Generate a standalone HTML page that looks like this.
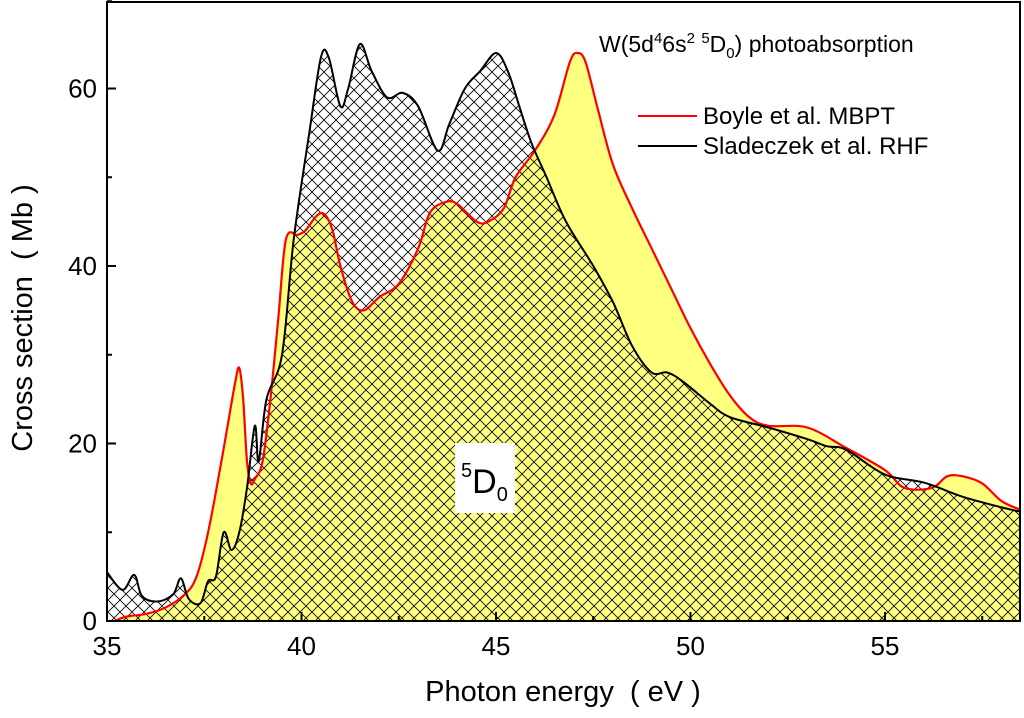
<!DOCTYPE html>
<html><head><meta charset="utf-8"><style>
html,body{margin:0;padding:0;background:#fff;}
svg text{font-family:"Liberation Sans",Arial,sans-serif;}
</style></head><body>
<svg id="chart" width="1024" height="713" viewBox="0 0 1024 713" xmlns="http://www.w3.org/2000/svg">
<defs>
<pattern id="hatch" patternUnits="userSpaceOnUse" width="12" height="12">
<path d="M0,0 L12,12 M12,0 L0,12" stroke="#000" stroke-width="0.8" fill="none"/>
</pattern>
<clipPath id="plotclip"><rect x="107" y="2" width="913" height="619"/></clipPath>
</defs>
<g id="plot" clip-path="url(#plotclip)"></g>
<g id="axes"></g>
</svg>
<script>
const xTicks=[35,40,45,50,55];
const yTicks=[0,20,40,60];
const boyleX=[35.2,35.5,36,36.5,37,37.3,37.6,37.9,38.1,38.3,38.4,38.5,38.6,38.7,38.8,39,39.2,39.4,39.6,39.9,40.1,40.4,40.6,40.8,41.0,41.3,41.6,42,42.5,43,43.3,43.7,44,44.5,44.8,45.2,45.5,46,46.5,46.9,47.1,47.3,47.6,48,48.5,49,49.5,50,50.5,51,51.5,52,53,54,55,55.5,56.2,56.6,57,57.5,58,58.5];
const boyleY=[0,0.5,0.8,1.5,3,5,10,17,22,27,28.5,25,18,15.5,16,18,25,34,43,43.5,44,45.7,45.8,44,40,36,35,36.5,38,42,46,47.2,47,45,45,46.5,50,53,57,63,64,63,58,51.5,46.5,42,37.5,33,29,25.5,23,22,21.8,19.5,17,15,15,16.3,16.3,15.5,13.5,12.5];
const sladX=[35,35.4,35.7,35.9,36.3,36.7,36.9,37.1,37.4,37.6,37.8,38.0,38.2,38.4,38.6,38.8,38.9,39.1,39.5,39.8,40.2,40.5,40.7,41.0,41.2,41.5,41.8,42.2,42.6,43,43.5,43.8,44.2,44.6,45,45.3,45.6,45.9,46.3,46.8,47.5,48,48.5,49,49.4,49.8,50.5,51,52,53,53.5,54,55,56,57,58,58.5];
const sladY=[5.5,3.5,5.2,2.8,2.2,3,4.8,2.5,2,4.5,5,10,8,10,15,22,18,25,30,43,55,63.5,63.5,58,60,65,62,59,59.5,58,53,56,60,62,64,62,58,54,50,45,40,36,31,28,28,27,24.5,23,21.8,20.5,19.7,19.3,16.5,15.6,14,12.8,12.3];

const NS="http://www.w3.org/2000/svg";
const X0=107,PX=38.9,Y0=621,PY=8.875;
function sx(v){return X0+(v-35)*PX;}
function sy(v){return Y0-v*PY;}
function el(t,a,p){const e=document.createElementNS(NS,t);for(const k in a)e.setAttribute(k,a[k]);p.appendChild(e);return e;}
function linePath(xs,ys){
 const p=xs.map((x,i)=>[sx(x),sy(ys[i])]);
 let d='M'+p[0][0].toFixed(1)+','+p[0][1].toFixed(1);
 for(let i=0;i<p.length-1;i++){
  const p0=p[i-1]||p[i],p1=p[i],p2=p[i+1],p3=p[i+2]||p2;
  const c1=[p1[0]+(p2[0]-p0[0])/6,p1[1]+(p2[1]-p0[1])/6];
  const c2=[p2[0]-(p3[0]-p1[0])/6,p2[1]-(p3[1]-p1[1])/6];
  d+=' C'+c1[0].toFixed(1)+','+c1[1].toFixed(1)+' '+c2[0].toFixed(1)+','+c2[1].toFixed(1)+' '+p2[0].toFixed(1)+','+p2[1].toFixed(1);
 }
 return d;
}
function areaPath(xs,ys){return linePath(xs,ys)+' L'+sx(xs[xs.length-1])+','+Y0+' L'+sx(xs[0])+','+Y0+' Z';}
const plot=document.getElementById('plot'),axes=document.getElementById('axes');

const a1=el('path',{d:areaPath(boyleX,boyleY),fill:'#ffff80',stroke:'none'},plot);


const a2=el('path',{d:areaPath(sladX,sladY),fill:'url(#hatch)',stroke:'none'},plot);


const l1=el('path',{d:linePath(boyleX,boyleY),fill:'none',stroke:'#ff0000','stroke-width':2.2,'stroke-linejoin':'round'},plot);


const l2=el('path',{d:linePath(sladX,sladY),fill:'none',stroke:'#000','stroke-width':2,'stroke-linejoin':'round'},plot);



const lb=el('rect',{x:455,y:443,width:60,height:70,fill:'#fff'},axes);


const lt=el('text',{x:461,y:493,'font-size':34},axes);


lt.innerHTML='<tspan font-size="20" dy="-16">5</tspan><tspan dy="16">D</tspan><tspan font-size="20" dy="8">0</tspan>';

const fr=el('rect',{x:107,y:2,width:913,height:619,fill:'none',stroke:'#000','stroke-width':2},axes);


xTicks.forEach(t=>{
 const x=sx(t);
 el('line',{x1:x,y1:Y0,x2:x,y2:Y0-9,stroke:'#000','stroke-width':2},axes);
 el('line',{x1:x+PX*2.5,y1:Y0,x2:x+PX*2.5,y2:Y0-5,stroke:'#000','stroke-width':2},axes);
 const tx=el('text',{x:x,y:655,'font-size':26,'text-anchor':'middle'},axes);
 
 
 tx.textContent=t;
});
yTicks.forEach(t=>{
 const y=sy(t);
 el('line',{x1:X0,y1:y,x2:X0+9,y2:y,stroke:'#000','stroke-width':2},axes);
 el('line',{x1:X0,y1:y-10*PY,x2:X0+5,y2:y-10*PY,stroke:'#000','stroke-width':2},axes);
 const ty=el('text',{x:97,y:y+9,'font-size':26,'text-anchor':'end'},axes);
 
 
 ty.textContent=t;
});
const xt=el('text',{x:563,y:701,'font-size':29,'text-anchor':'middle'},axes);


xt.textContent='Photon energy\u00a0\u00a0( eV )';
const yt=el('text',{x:0,y:0,'font-size':29,'text-anchor':'middle',transform:'translate(32,318) rotate(-90)'},axes);


yt.textContent='Cross section\u00a0\u00a0( Mb )';
const tt=el('text',{x:599,y:52,'font-size':23},axes);


tt.innerHTML='W(5d<tspan font-size="15" dy="-9">4</tspan><tspan dy="9">6s</tspan><tspan font-size="15" dy="-9">2</tspan><tspan dy="9"> </tspan><tspan font-size="15" dy="-9">5</tspan><tspan dy="9">D</tspan><tspan font-size="15" dy="6">0</tspan><tspan dy="-6">) photoabsorption</tspan>';
const lg1=el('line',{x1:638,y1:116,x2:697,y2:116,stroke:'#ff0000','stroke-width':2},axes);


const lg2=el('line',{x1:638,y1:146,x2:697,y2:146,stroke:'#000','stroke-width':2},axes);


const lt1=el('text',{x:703,y:124,'font-size':24},axes);


lt1.textContent='Boyle et al. MBPT';
const lt2=el('text',{x:703,y:154,'font-size':24},axes);


lt2.textContent='Sladeczek et al. RHF';
</script>
</body></html>
